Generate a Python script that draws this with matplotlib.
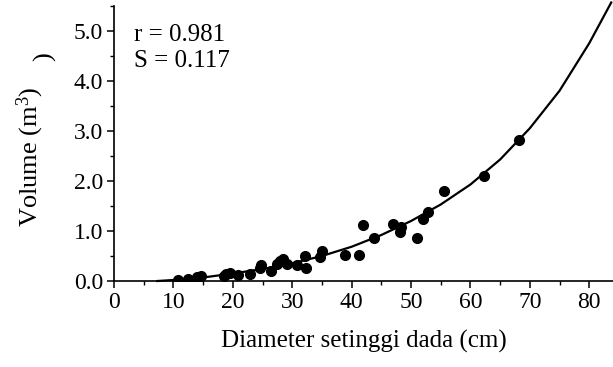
import numpy as np
import matplotlib
matplotlib.use("Agg")
import matplotlib.pyplot as plt
from matplotlib.ticker import MultipleLocator, FormatStrFormatter

plt.rcParams['font.family'] = ['Liberation Serif', 'DejaVu Serif']
plt.rcParams['mathtext.fontset'] = 'custom'
plt.rcParams['mathtext.rm'] = 'Liberation Serif'
plt.rcParams['mathtext.it'] = 'Liberation Serif:italic'

# observed trees: diameter at breast height (cm) and volume (m3)
diameter = [10.8, 12.5, 13.9, 14.6, 18.5, 18.8, 19.6, 20.8, 22.9, 24.6, 24.8,
            26.5, 27.4, 27.9, 28.5, 29.1, 30.8, 32.2, 32.4, 34.6, 35.0, 38.9,
            41.3, 41.9, 43.7, 46.9, 48.3, 48.1, 51.0, 52.0, 52.9, 55.6, 62.3,
            68.2]
volume = [0.03, 0.05, 0.08, 0.11, 0.11, 0.15, 0.16, 0.13, 0.14, 0.26, 0.33,
          0.21, 0.35, 0.40, 0.45, 0.35, 0.32, 0.50, 0.27, 0.49, 0.61, 0.52,
          0.53, 1.12, 0.86, 1.14, 1.09, 0.98, 0.86, 1.25, 1.39, 1.81, 2.11,
          2.83]

# fitted curve
curve_d = [7.3, 10, 15, 20, 25, 30, 35, 40, 45, 50, 55, 60, 65, 70, 75, 80,
           83.7]
curve_v = [0.0, 0.02, 0.07, 0.15, 0.24, 0.355, 0.50, 0.685, 0.92, 1.20, 1.53,
           1.93, 2.43, 3.055, 3.805, 4.755, 5.57]

stats = ["r = 0.981", "S = 0.117"]

fig = plt.figure(figsize=(6.13, 3.67), dpi=100)
ax = fig.add_axes([114 / 613, 1 - 281 / 367, 499 / 613, 275 / 367])

ax.plot(curve_d, curve_v, color='black', lw=1.6, clip_on=False, zorder=2)
ax.plot(diameter, volume, 'o', color='black', ms=7, zorder=3)

ax.set_xlim(0, 84)
ax.set_ylim(0, 5.5)
ax.xaxis.set_major_locator(MultipleLocator(10))
ax.xaxis.set_minor_locator(MultipleLocator(5))
ax.yaxis.set_major_locator(MultipleLocator(1))
ax.yaxis.set_minor_locator(MultipleLocator(0.5))
ax.yaxis.set_major_formatter(FormatStrFormatter('%.1f'))

for side in ['top', 'right']:
    ax.spines[side].set_visible(False)
for side in ['left', 'bottom']:
    ax.spines[side].set_linewidth(1.2)

ax.tick_params(which='major', direction='out', length=5, width=1.1,
               labelsize=17, pad=3)
ax.tick_params(which='minor', direction='out', length=3, width=1.0)

ax.set_xlabel('Diameter setinggi dada (cm)', fontsize=18, labelpad=12)
fig.text(30 / 613, 1 - 157 / 367, 'Volume (m$^{3}$)', rotation=90,
         ha='center', va='center', fontsize=19)
fig.text(45 / 613, 1 - 57 / 367, ')', rotation=90,
         ha='center', va='center', fontsize=19)

for i, s in enumerate(stats):
    ax.text(0.04, (281 - 41 - 26 * i) / 275, s, transform=ax.transAxes,
            ha='left', va='baseline', fontsize=18)

fig.savefig('out.png', dpi=100)
